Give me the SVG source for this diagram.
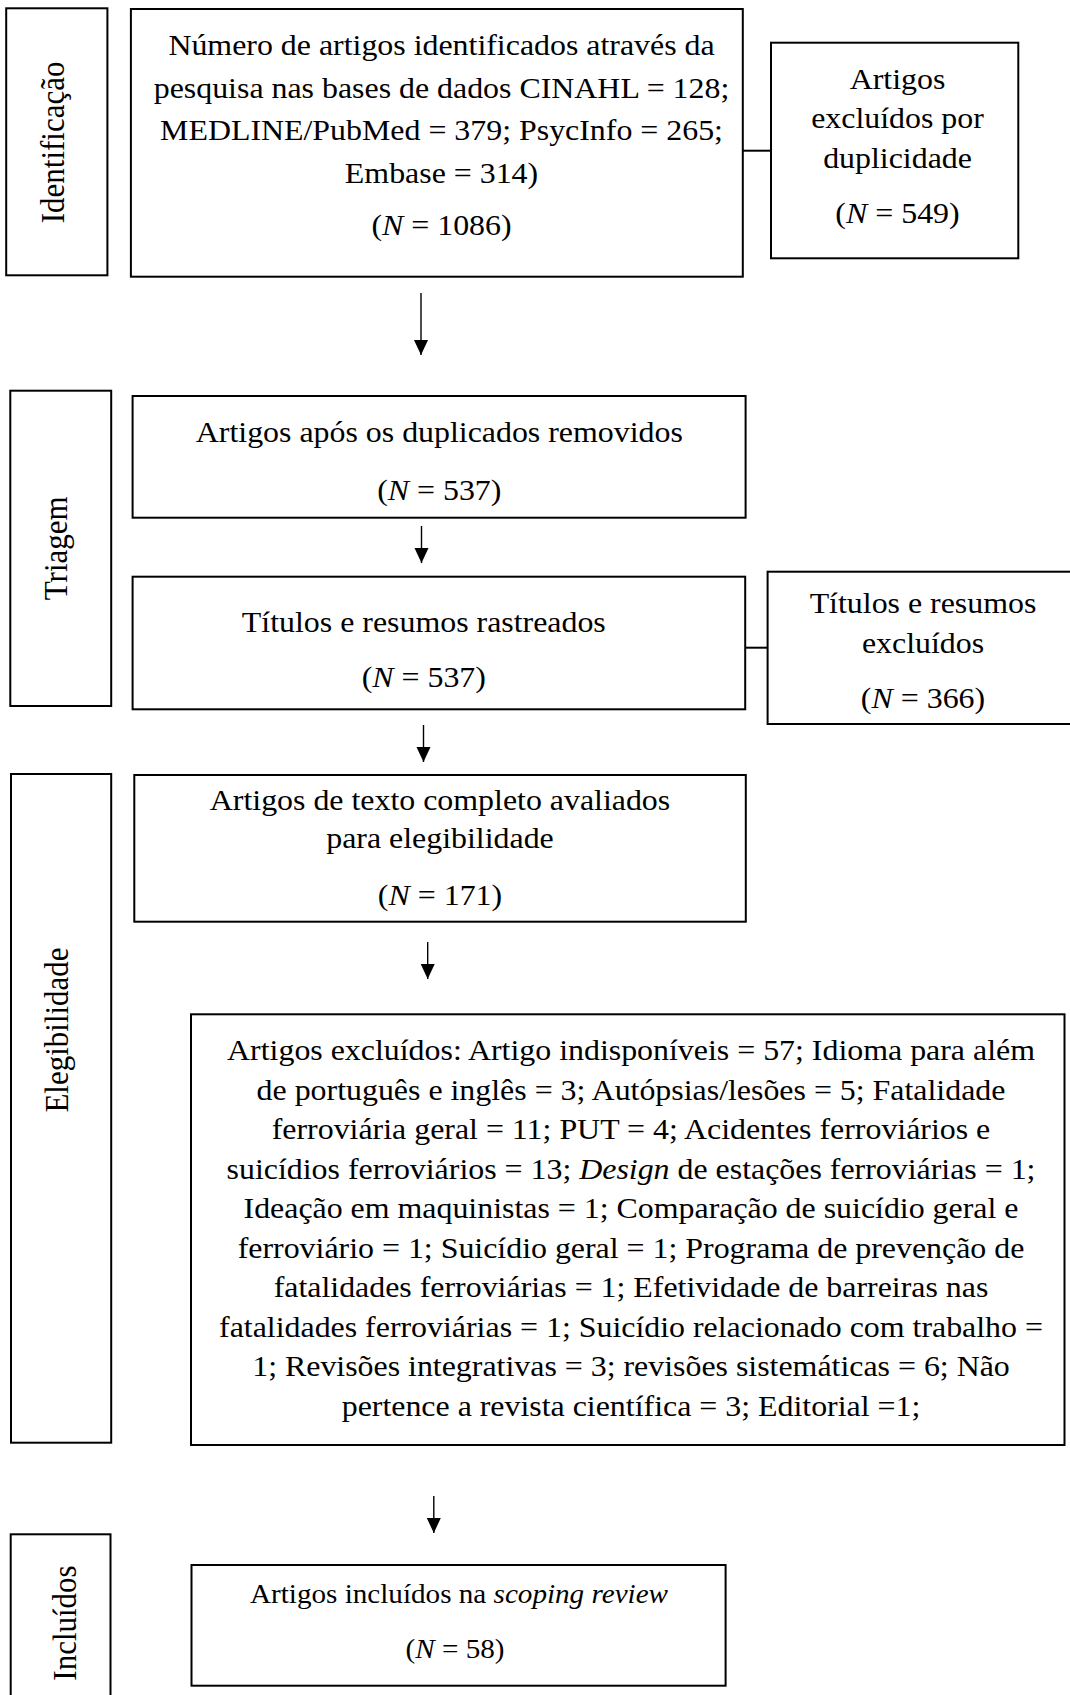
<svg xmlns="http://www.w3.org/2000/svg" width="1070" height="1695" viewBox="0 0 1070 1695">
<style>
.box{fill:#fff;stroke:#000;stroke-width:2}
.t{font-family:"Liberation Serif","Times New Roman",serif;font-size:29px;text-anchor:middle;fill:#000}
.lab{font-size:31px}
.sm{font-size:26.5px}
.i{font-style:italic}
.ln{stroke:#000;stroke-width:1.4;fill:none}
.arr{stroke:#000;stroke-width:1.4;fill:none;marker-end:url(#ah)}
</style>
<defs>
<marker id="ah" viewBox="0 -8 16 16" refX="15" refY="0" markerWidth="16" markerHeight="16" markerUnits="userSpaceOnUse" orient="auto">
<path d="M0,-7 L15,0 L0,7 z" fill="#000"/>
</marker>
</defs>
<rect width="1070" height="1695" fill="#fff"/>

<g id="connectors">
<line class="arr" x1="421" y1="293" x2="421" y2="355"/>
<line class="arr" x1="421.5" y1="526" x2="421.5" y2="563"/>
<line class="arr" x1="423.5" y1="725" x2="423.5" y2="762"/>
<line class="arr" x1="427.7" y1="942" x2="427.7" y2="979"/>
<line class="arr" x1="433.8" y1="1496" x2="433.8" y2="1533"/>
<line class="ln" x1="742.8" y1="150.7" x2="771" y2="150.7" style="stroke-width:2"/>
<line class="ln" x1="745.2" y1="647.7" x2="767.6" y2="647.7" style="stroke-width:2"/>
</g>

<g id="lab-identificacao">
<rect class="box" x="6.2" y="8.3" width="101.2" height="267"/>
<text class="t lab" transform="translate(64 142.4) scale(1.1 1) rotate(-90)">Identificação</text>
</g>
<g id="lab-triagem">
<rect class="box" x="10.3" y="390.7" width="100.9" height="315.3"/>
<text class="t lab" transform="translate(67 548.3) scale(1.1 1) rotate(-90)">Triagem</text>
</g>
<g id="lab-elegibilidade">
<rect class="box" x="11" y="774" width="100.2" height="668.7"/>
<text class="t lab" transform="translate(67.5 1030) scale(1.1 1) rotate(-90)">Elegibilidade</text>
</g>
<g id="lab-incluidos">
<rect class="box" x="10.7" y="1534.3" width="99.8" height="170"/>
<text class="t lab" transform="translate(76 1623) scale(1.1 1) rotate(-90)">Incluídos</text>
</g>

<g id="n-identificados">
<rect class="box" x="130.9" y="9" width="611.9" height="267.7"/>
<text class="t" transform="translate(441.5 0) scale(1.1 1)" y="55">Número de artigos identificados através da</text>
<text class="t" transform="translate(441.5 0) scale(1.1 1)" y="98.3">pesquisa nas bases de dados CINAHL = 128;</text>
<text class="t" transform="translate(441.5 0) scale(1.1 1)" y="140">MEDLINE/PubMed = 379; PsycInfo = 265;</text>
<text class="t" transform="translate(441.5 0) scale(1.1 1)" y="182.7">Embase = 314)</text>
<text class="t" transform="translate(441.5 0) scale(1.1 1)" y="235">(<tspan class="i">N</tspan> = 1086)</text>
</g>

<g id="n-excl-duplicidade">
<rect class="box" x="771" y="42.7" width="247.3" height="215.6"/>
<text class="t" transform="translate(897.5 0) scale(1.1 1)" y="89.3">Artigos</text>
<text class="t" transform="translate(897.5 0) scale(1.1 1)" y="128.3">excluídos por</text>
<text class="t" transform="translate(897.5 0) scale(1.1 1)" y="168.3">duplicidade</text>
<text class="t" transform="translate(897.5 0) scale(1.1 1)" y="223.3">(<tspan class="i">N</tspan> = 549)</text>
</g>

<g id="n-apos-duplicados">
<rect class="box" x="132.6" y="396" width="613" height="121.7"/>
<text class="t" transform="translate(439.3 0) scale(1.1 1)" y="441.7">Artigos após os duplicados removidos</text>
<text class="t" transform="translate(439.3 0) scale(1.1 1)" y="500">(<tspan class="i">N</tspan> = 537)</text>
</g>

<g id="n-rastreados">
<rect class="box" x="132.6" y="576.7" width="612.6" height="132.6"/>
<text class="t" transform="translate(423.8 0) scale(1.1 1)" y="631.7">Títulos e resumos rastreados</text>
<text class="t" transform="translate(423.8 0) scale(1.1 1)" y="686.7">(<tspan class="i">N</tspan> = 537)</text>
</g>

<g id="n-excl-titulos">
<rect class="box" x="767.6" y="571.7" width="312" height="152.3"/>
<text class="t" transform="translate(923 0) scale(1.1 1)" y="613.3">Títulos e resumos</text>
<text class="t" transform="translate(923 0) scale(1.1 1)" y="652.7">excluídos</text>
<text class="t" transform="translate(923 0) scale(1.1 1)" y="708.3">(<tspan class="i">N</tspan> = 366)</text>
</g>

<g id="n-texto-completo">
<rect class="box" x="134.3" y="775" width="611.5" height="146.7"/>
<text class="t" transform="translate(440 0) scale(1.1 1)" y="810">Artigos de texto completo avaliados</text>
<text class="t" transform="translate(440 0) scale(1.1 1)" y="848.3">para elegibilidade</text>
<text class="t" transform="translate(440 0) scale(1.1 1)" y="905">(<tspan class="i">N</tspan> = 171)</text>
</g>

<g id="n-excl-texto">
<rect class="box" x="191" y="1014.3" width="873.5" height="430.7"/>
<g transform="translate(631 0) scale(1.1 1)">
<text class="t" y="1060.5">Artigos excluídos: Artigo indisponíveis = 57; Idioma para além</text>
<text class="t" y="1100">de português e inglês = 3; Autópsias/lesões = 5; Fatalidade</text>
<text class="t" y="1139.5">ferroviária geral = 11; PUT = 4; Acidentes ferroviários e</text>
<text class="t" y="1179">suicídios ferroviários = 13; <tspan class="i">Design</tspan> de estações ferroviárias = 1;</text>
<text class="t" y="1218.5">Ideação em maquinistas = 1; Comparação de suicídio geral e</text>
<text class="t" y="1258">ferroviário = 1; Suicídio geral = 1; Programa de prevenção de</text>
<text class="t" y="1297.5">fatalidades ferroviárias = 1; Efetividade de barreiras nas</text>
<text class="t" y="1337">fatalidades ferroviárias = 1; Suicídio relacionado com trabalho =</text>
<text class="t" y="1376.5">1; Revisões integrativas = 3; revisões sistemáticas = 6; Não</text>
<text class="t" y="1416">pertence a revista científica = 3; Editorial =1;</text>
</g>
</g>

<g id="n-incluidos">
<rect class="box" x="191.5" y="1565" width="534.1" height="120.7"/>
<text class="t sm" transform="translate(459 0) scale(1.1 1)" y="1603.5">Artigos incluídos na <tspan class="i">scoping review</tspan></text>
<text class="t sm" transform="translate(455 0) scale(1.1 1)" y="1658.3">(<tspan class="i">N</tspan> = 58)</text>
</g>
</svg>
